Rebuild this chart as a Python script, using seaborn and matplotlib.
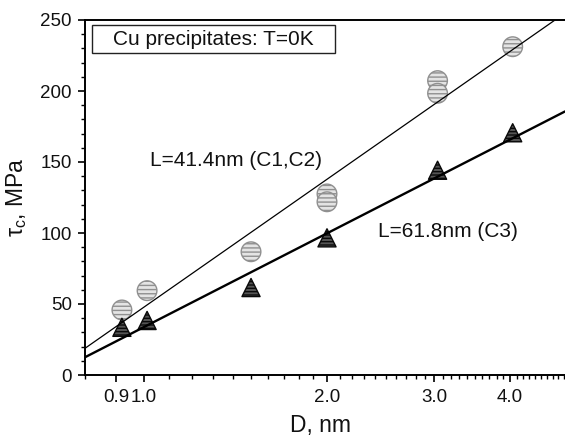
import numpy as np
import pandas as pd
import matplotlib
matplotlib.use("Agg")
import matplotlib.pyplot as plt
import seaborn as sns
from matplotlib.ticker import FixedLocator, MultipleLocator, NullFormatter
from matplotlib.patches import Rectangle

# Critical resolved shear stress vs precipitate diameter
D_c12 = [0.92, 1.012, 1.50, 2.00, 2.00, 3.04, 3.04, 4.04]
tau_c12 = [45.8, 59.4, 86.8, 127.5, 122.0, 207.3, 198.4, 231.2]

D_c3 = [0.92, 1.012, 1.50, 2.00, 3.04, 4.04]
tau_c3 = [33.6, 38.4, 61.6, 96.6, 144.2, 170.6]

# straight (in log D) lines for the two obstacle spacings
line_D = [0.80, 4.925]
tau_L414 = [18.8, 254.9]
tau_L618 = [12.5, 185.6]

x_ticks = [0.9, 1.0, 2.0, 3.0, 4.0]
x_ticklabels = ["0.9", "1.0", "2.0", "3.0", "4.0"]
x_minor = [round(v, 1) for v in np.arange(0.8, 4.95, 0.1)]

sns.set_style("ticks")
plt.rcParams["font.family"] = ["Liberation Sans", "DejaVu Sans"]
plt.rcParams["mathtext.fontset"] = "custom"
plt.rcParams["mathtext.rm"] = "Liberation Sans"
plt.rcParams["mathtext.it"] = "Liberation Sans:italic"
plt.rcParams["hatch.linewidth"] = 1.0

W, H = 565, 438
fig = plt.figure(figsize=(W / 100, H / 100), dpi=100)
ax = fig.add_axes([85 / W, (H - 375) / H, 480 / W, 355 / H])
ax.set_xscale("log")

df12 = pd.DataFrame({"D": D_c12, "tau": tau_c12})
df3 = pd.DataFrame({"D": D_c3, "tau": tau_c3})

sns.scatterplot(data=df12, x="D", y="tau", ax=ax, marker="o", s=200,
                facecolor="#e4e4e4", edgecolor="#909090", linewidth=1.0,
                hatch="----", zorder=2)
sns.scatterplot(data=df3, x="D", y="tau", ax=ax, marker="^", s=170,
                facecolor="#555555", edgecolor="#0a0a0a", linewidth=1.0,
                hatch="-----", zorder=2)

sns.lineplot(x=line_D, y=tau_L414, ax=ax, color="black", linewidth=0.9, zorder=3)
sns.lineplot(x=line_D, y=tau_L618, ax=ax, color="black", linewidth=1.7, zorder=3)

ax.set_xlim(0.80, 4.925)
ax.set_ylim(0, 250)

ax.xaxis.set_major_locator(FixedLocator(x_ticks))
ax.set_xticklabels(x_ticklabels)
ax.xaxis.set_minor_locator(FixedLocator(x_minor))
ax.xaxis.set_minor_formatter(NullFormatter())
ax.yaxis.set_major_locator(MultipleLocator(50))
ax.yaxis.set_minor_locator(MultipleLocator(10))

ax.tick_params(which="major", direction="out", length=5, width=1.2,
               labelsize=13.5, color="black", labelcolor="#111111")
ax.tick_params(axis="x", which="major", pad=5)
ax.tick_params(axis="y", which="major", pad=4.5)
ax.tick_params(which="minor", direction="out", length=2.6, width=1.0, color="black")

for side in ["left", "bottom", "top"]:
    ax.spines[side].set_linewidth(1.4)
    ax.spines[side].set_color("black")
ax.spines["right"].set_visible(False)

ax.set_xlabel("D, nm", fontsize=16.5, color="#111111")
ax.set_ylabel("τ$_\\mathregular{c}$, MPa", fontsize=16.5, color="#111111")
ax.xaxis.set_label_coords((321 - 85) / 480, (375 - 414) / 355)
ax.yaxis.set_label_coords((29 - 85) / 480, 0.5)

# boxed title inside the axes
ax.add_patch(Rectangle(((92 - 85) / 480, (375 - 52.7) / 355), (335 - 92) / 480,
                       (52.7 - 25) / 355, transform=ax.transAxes,
                       facecolor="white", edgecolor="#222222", linewidth=1.0,
                       zorder=4))
ax.text((113.3 - 85) / 480, (375 - 45) / 355, "Cu precipitates: T=0K",
        transform=ax.transAxes, fontsize=15, ha="left", va="baseline",
        color="#111111", zorder=5)

ax.text((150.5 - 85) / 480, (375 - 166.5) / 355, "L=41.4nm (C1,C2)",
        transform=ax.transAxes, fontsize=15, ha="left", va="baseline",
        color="#111111")
ax.text((378 - 85) / 480, (375 - 237) / 355, "L=61.8nm (C3)",
        transform=ax.transAxes, fontsize=15, ha="left", va="baseline",
        color="#111111")

fig.savefig("out.png", dpi=100)
